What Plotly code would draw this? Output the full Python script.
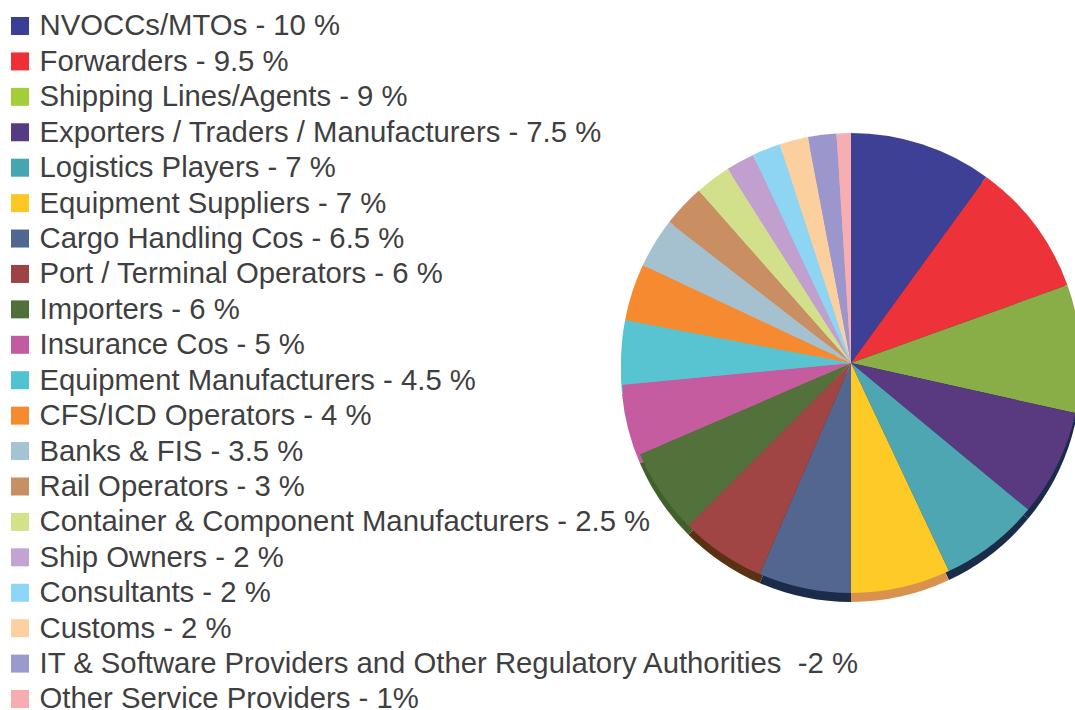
import plotly.graph_objects as go

# ---- data ----
categories = ["NVOCCs/MTOs", "Forwarders", "Shipping Lines/Agents", "Exporters / Traders / Manufacturers",
              "Logistics Players", "Equipment Suppliers", "Cargo Handling Cos", "Port / Terminal Operators",
              "Importers", "Insurance Cos", "Equipment Manufacturers", "CFS/ICD Operators", "Banks & FIS",
              "Rail Operators", "Container & Component Manufacturers", "Ship Owners", "Consultants", "Customs",
              "IT & Software Providers and Other Regulatory Authorities", "Other Service Providers"]
values = [10, 9.5, 9, 7.5, 7, 7, 6.5, 6, 6, 5, 4.5, 4, 3.5, 3, 2.5, 2, 2, 2, 2, 1]
value_texts = [" - 10 %", " - 9.5 %", " - 9 %", " - 7.5 %", " - 7 %", " - 7 %", " - 6.5 %", " - 6 %", " - 6 %",
               " - 5 %", " - 4.5 %", " - 4 %", " - 3.5 %", " - 3 %", " - 2.5 %", " - 2 %", " - 2 %", " - 2 %",
               "  -2 %", " - 1%"]
slice_colors = ["#3d4094", "#ee3239", "#8aae47", "#59397f", "#4fa6b3", "#fdca27", "#52668f", "#a04544",
                "#52713b", "#c55ca0", "#58c4d2", "#f58a31", "#a5c1d0", "#c98f62", "#d3e08b", "#c19fcf",
                "#8dd5f3", "#fccf9f", "#9b97cc", "#f6aeb3"]
swatch_colors = ["#3a3f95", "#ee2f37", "#a3cd39", "#563a85", "#46a5b0", "#fdc823", "#4f6791", "#9e4343",
                 "#4f7038", "#c35ba0", "#4fc3d1", "#f58a2e", "#a5c3d3", "#c88f62", "#d3e188", "#c3a3d2",
                 "#8ed6f6", "#fdd09f", "#9c99cc", "#f7acb0"]
side_colors = ["#1a2c4a", "#1a2c4a", "#1a2c4a", "#1a2c4a", "#1a2c4a", "#d8914e", "#1a2c4a", "#5a3212",
               "#40602c", "#c55ca0", "#58c4d2", "#f58a31", "#a5c1d0", "#c98f62", "#d3e08b", "#c19fcf",
               "#8dd5f3", "#fccf9f", "#9b97cc", "#f6aeb3"]

W, H = 1090, 710
CX, CY, R, DEPTH = 851, 363, 230, 9
rows = list(range(len(categories)))
labels = [c + v for c, v in zip(categories, value_texts)]


def domain(cy):
    return dict(x=[(CX - R) / W, (CX + R) / W], y=[1 - (cy + R) / H, 1 - (cy - R) / H])


fig = go.Figure()
for colors, cy in ((side_colors, CY + DEPTH), (slice_colors, CY)):
    fig.add_trace(go.Pie(labels=categories, values=values, sort=False, direction="clockwise", rotation=0,
                         marker=dict(colors=colors, line=dict(width=0)), textinfo="none",
                         domain=domain(cy), showlegend=False, hoverinfo="label+percent"))
fig.add_trace(go.Scatter(x=[20] * len(rows), y=rows, mode="markers", cliponaxis=False,
                         marker=dict(symbol="square", size=18, color=swatch_colors, line=dict(width=0)),
                         showlegend=False, hoverinfo="skip"))
fig.add_trace(go.Scatter(x=[39.5] * len(rows), y=[r + 0.06 for r in rows], mode="text", text=labels,
                         textposition="middle right", cliponaxis=False,
                         textfont=dict(family="Liberation Sans", size=29.3, color="#3f3f41"),
                         showlegend=False, hoverinfo="skip"))
fig.update_layout(
    width=W, height=H, margin=dict(l=0, r=0, t=0, b=0), paper_bgcolor="white", plot_bgcolor="rgba(0,0,0,0)",
    xaxis=dict(visible=False, range=[0, W], fixedrange=True),
    yaxis=dict(visible=False, range=[19.31, -0.734], fixedrange=True),
)
fig.write_html("out.html", config={"displayModeBar": False},
               post_script="document.body.style.margin='0';document.documentElement.style.overflow='hidden';document.body.style.overflow='hidden';")
